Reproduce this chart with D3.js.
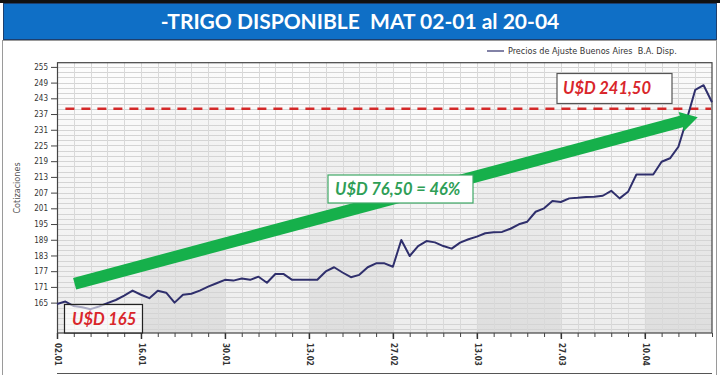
<!DOCTYPE html>
<html><head><meta charset="utf-8">
<script src="https://cdn.jsdelivr.net/npm/d3@7"></script>
<style>body{margin:0;background:#fff;}svg{display:block;}</style>
</head><body>
<svg id="c" width="720" height="375"></svg>
<script>
const title = "-TRIGO DISPONIBLE  MAT 02-01 al 20-04";
const seriesName = "Precios de Ajuste Buenos Aires  B.A. Disp.";
const yAxisTitle = "Cotizaciones";
const tickLabels = ["02.01","16.01","30.01","13.02","27.02","13.03","27.03","10.04"];
const yTicks = [165,171,177,183,189,195,201,207,213,219,225,231,237,243,249,255];
const prices = [164.5,165.4,163.7,163.2,162.5,163.5,164.8,166,167.7,169.6,
  168,166.7,169.5,168.8,165,168,168.4,169.6,171.1,172.4,
  173.7,173.4,174.2,173.7,174.9,172.6,175.9,175.9,173.7,173.7,
  173.7,173.7,176.9,178.5,176.5,174.7,175.6,178.5,180,180,
  178.7,188.9,182.8,186.6,188.5,188,186.6,185.6,187.9,189.2,
  190.2,191.5,191.9,192,193.2,194.9,195.9,199.7,201,203.8,
  203.4,204.8,205,205.3,205.4,205.8,207.7,204.8,207.3,213.9,
  213.9,213.9,218.8,220.1,224.5,235,246.2,248,241.5];
const refLevel = [239];
const arrowFrom = [2.1, 172.2];
const arrowTo = [76.3, 235.8];
const labelStart = "U$D 165";
const labelEnd = "U$D 241,50";
const labelGain = "U$D 76,50 = 46%";

const svg = d3.select("#c");
const L = 57, R = 712, T = 62.7, B = 333;
const x = d3.scaleLinear().domain([0, prices.length - 1]).range([L, R]);
const y = d3.scaleLinear().domain([153.4, 256.6]).range([B, T]);

// title banner
svg.append("rect").attr("x",0).attr("y",0).attr("width",720).attr("height",3).attr("fill","#111");
svg.append("rect").attr("x",3.5).attr("y",3.5).attr("width",713).attr("height",36).attr("fill","#0f6fc6").attr("stroke","#1d3f6e").attr("stroke-width",1);
svg.append("text").attr("x",360).attr("y",29).attr("text-anchor","middle")
  .attr("font-family","Lato, 'Open Sans', sans-serif").attr("font-weight","bold").attr("font-size",21)
  .attr("fill","#fff").attr("xml:space","preserve").text(title);

// outer frame
svg.append("rect").attr("x",2.5).attr("y",40.5).attr("width",714).attr("height",340).attr("fill","none").attr("stroke","#9a9a9a");
svg.append("line").attr("x1",L).attr("x2",R).attr("y1",373.5).attr("y2",373.5).attr("stroke","#555");

// plot background
const defs = svg.append("defs");
const g1 = defs.append("linearGradient").attr("id","bg").attr("x1",0).attr("x2",0).attr("y1",0).attr("y2",1);
g1.append("stop").attr("offset","0%").attr("stop-color","#fbfbfb");
g1.append("stop").attr("offset","100%").attr("stop-color","#dedede");
svg.append("rect").attr("x",L).attr("y",T).attr("width",R-L).attr("height",B-T).attr("fill","url(#bg)");
// alternating bands
const bands = d3.range(0, prices.length - 1, 10);
svg.append("g").selectAll("rect").data(bands.filter((d,i)=>i%2===0)).join("rect")
  .attr("x", d => x(d)).attr("y", T)
  .attr("width", d => x(Math.min(d+10, prices.length-1)) - x(d)).attr("height", B-T)
  .attr("fill","#ffffff").attr("opacity",0.45);

// grid
const hGrid = d3.range(155, 257, 2);
svg.append("g").selectAll("line").data(hGrid).join("line")
  .attr("x1",L).attr("x2",R).attr("y1",d=>Math.round(y(d))+0.5).attr("y2",d=>Math.round(y(d))+0.5)
  .attr("stroke","#d4d4d4").attr("stroke-width",1);
const vGrid = d3.range(2, prices.length - 1, 2);
svg.append("g").selectAll("line").data(vGrid).join("line")
  .attr("y1",T).attr("y2",B).attr("x1",d=>Math.round(x(d))+0.5).attr("x2",d=>Math.round(x(d))+0.5)
  .attr("stroke","#d9d9d9").attr("stroke-width",1);

// axes
const axisFont = "'DejaVu Sans Condensed', 'Liberation Sans Narrow', 'DejaVu Sans', sans-serif";
const yAxis = svg.append("g").attr("transform",`translate(${L},0)`)
  .call(d3.axisLeft(y).tickValues(yTicks).tickSize(6).tickPadding(3).tickFormat(d3.format("d")));
yAxis.select(".domain").remove();
yAxis.selectAll("line").attr("stroke","#444");
yAxis.selectAll("text").attr("font-family",axisFont).attr("font-size",8).attr("fill","#333");

const minorX = d3.range(0, prices.length, 2);
const xAxis = svg.append("g").attr("transform",`translate(0,${B})`)
  .call(d3.axisBottom(x).tickValues(minorX).tickSize(4).tickFormat(""));
xAxis.select(".domain").remove();
xAxis.selectAll("line").attr("stroke","#444");
const majorX = tickLabels.map((t,i)=>i*10);
const xAxis2 = svg.append("g").attr("transform",`translate(0,${B})`)
  .call(d3.axisBottom(x).tickValues(majorX).tickSize(6).tickFormat((d,i)=>tickLabels[i]));
xAxis2.select(".domain").remove();
xAxis2.selectAll("line").attr("stroke","#333").attr("stroke-width",1.5);
xAxis2.selectAll("text").attr("font-family",axisFont).attr("font-size",8).attr("fill","#333")
  .attr("font-weight","bold")
  .attr("transform","rotate(90)").attr("text-anchor","start").attr("dy","0.35em").attr("x",10).attr("y",0);

// plot border
svg.append("rect").attr("x",L+0.5).attr("y",T).attr("width",R-L-0.5).attr("height",B-T).attr("fill","none").attr("stroke","#444").attr("stroke-width",1.2);

// y title
svg.append("text").attr("transform","translate(20,188) rotate(-90)").attr("text-anchor","middle")
  .attr("font-family",axisFont).attr("font-size",9).attr("fill","#555").text(yAxisTitle);

// legend
svg.append("line").attr("x1",487).attr("x2",504).attr("y1",51).attr("y2",51).attr("stroke","#2e2e6a").attr("stroke-width",1.2);
svg.append("text").attr("x",508).attr("y",54).attr("font-family",axisFont).attr("font-size",9)
  .attr("fill","#333").attr("xml:space","preserve").text(seriesName);

// reference dashed line
svg.append("g").selectAll("line").data(refLevel).join("line")
  .attr("x1",x(1)).attr("x2",R-1).attr("y1",d=>y(d)).attr("y2",d=>y(d))
  .attr("stroke","#d42a2a").attr("stroke-width",2.5).attr("stroke-dasharray","9,7");

// price line
const line = d3.line().x((d,i)=>x(i)).y(d=>y(d));
svg.append("path").datum(prices).attr("d",line).attr("fill","none")
  .attr("stroke","#2f2f6c").attr("stroke-width",2).attr("stroke-linejoin","round");

// green arrow
const ax1 = x(arrowFrom[0]), ay1 = y(arrowFrom[1]), ax2 = x(arrowTo[0]), ay2 = y(arrowTo[1]);
const ang = Math.atan2(ay2-ay1, ax2-ax1);
const len = Math.hypot(ax2-ax1, ay2-ay1);
const hw = 6, headL = 17, headW = 10;
const ag = svg.append("g").attr("transform",`translate(${ax1},${ay1}) rotate(${ang*180/Math.PI})`);
ag.append("path").attr("d",`M0,${-hw} L${len-headL},${-hw} L${len-headL},${-headW} L${len},0 L${len-headL},${headW} L${len-headL},${hw} L0,${hw} Z`)
  .attr("fill","#16b04b");

// annotation boxes
const annFont = "Lato, 'Open Sans', sans-serif";
function box(x0,y0,w,h,stroke,txt,col,size,tx){
  svg.append("rect").attr("x",x0).attr("y",y0).attr("width",w).attr("height",h).attr("fill","#fff").attr("stroke",stroke).attr("stroke-width",1.2);
  svg.append("text").attr("x",tx).attr("y",y0+h/2).attr("dy","0.35em").attr("font-family",annFont)
    .attr("font-weight","bold").attr("font-style","italic").attr("font-size",size).attr("fill",col).text(txt);
}
box(557,73.5,115,30,"#555",labelEnd,"#d9262b",16.5,563);
box(328,175,145,28,"#3fa866",labelGain,"#2e9e56",16.5,335);
// start box (open at bottom, sitting on axis)
svg.append("rect").attr("x",64.5).attr("y",304.5).attr("width",78).attr("height",B-304.5).attr("fill","#fff").attr("fill-opacity",0.6).attr("stroke","#222").attr("stroke-width",1.2);
svg.append("text").attr("x",72).attr("y",319).attr("dy","0.35em").attr("font-family",annFont)
  .attr("font-weight","bold").attr("font-style","italic").attr("font-size",16.5).attr("fill","#d9262b").text(labelStart);
</script>
</body></html>
